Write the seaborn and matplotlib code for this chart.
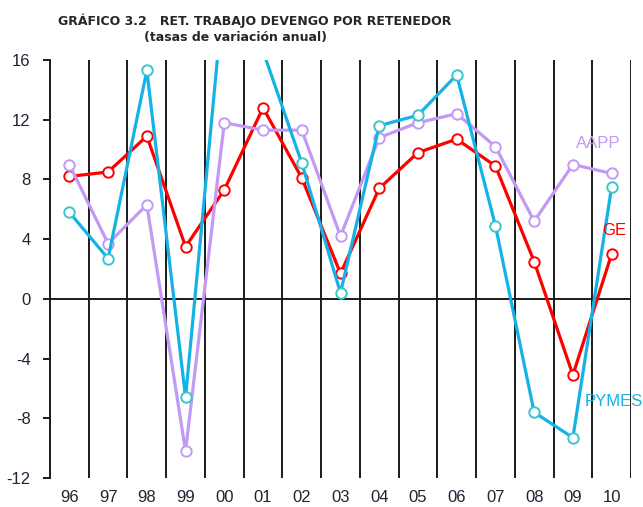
import matplotlib
matplotlib.use("Agg")
import matplotlib.pyplot as plt
import seaborn as sns
import pandas as pd
import numpy as np

years = ["96", "97", "98", "99", "00", "01", "02", "03", "04", "05", "06", "07", "08", "09", "10"]
ge = [8.2, 8.5, 10.9, 3.5, 7.3, 12.8, 8.1, 1.7, 7.4, 9.8, 10.7, 8.9, 2.5, -5.1, 3.0]
aapp = [9.0, 3.7, 6.3, -10.2, 11.8, 11.3, 11.3, 4.2, 10.8, 11.8, 12.4, 10.2, 5.2, 9.0, 8.4]
pymes = [5.8, 2.7, 15.3, -6.6, 21.0, 16.6, 9.1, 0.4, 11.6, 12.3, 15.0, 4.9, -7.6, -9.3, 7.5]
yticks = [-12, -8, -4, 0, 4, 8, 12, 16]

sns.set_style("white")
plt.rcParams['font.family'] = ['Liberation Sans', 'DejaVu Sans']

fig = plt.figure(figsize=(6.43, 5.07), dpi=100)
ax = fig.add_axes([50/643, 1-478/507, (631-50)/643, (478-60)/507])

pos = np.arange(len(years))
df = pd.DataFrame({"x": pos, "GE": ge, "AAPP": aapp, "PYMES": pymes})

# gridlines at category boundaries
for b in np.arange(0.5, len(years), 1.0):
    ax.axvline(b, color="#1a1a1a", lw=1.4, zorder=1)
ax.axhline(0, color="#1a1a1a", lw=1.4, zorder=1)

styles = [
    ("GE", "#ff0000", "#ff0000"),
    ("AAPP", "#c399f5", "#c399f5"),
    ("PYMES", "#14b2e6", "#38c6cc"),
]
for name, lc, mc in styles:
    sns.lineplot(data=df, x="x", y=name, ax=ax, color=lc, lw=2.3, sort=False,
                 marker="o", markersize=7.5, markerfacecolor="white",
                 markeredgecolor=mc, markeredgewidth=1.4, zorder=3)

ax.set_xlim(-0.5, len(years) - 0.5)
ax.set_ylim(-12, 16)
ax.set_yticks(yticks)
ax.set_yticklabels([str(v) for v in yticks])
ax.set_xticks(pos)
ax.set_xticklabels(years)
ax.set_xlabel("")
ax.set_ylabel("")

for s in ["top", "right", "bottom"]:
    ax.spines[s].set_visible(False)
ax.spines["left"].set_color("#1a1a1a")
ax.spines["left"].set_linewidth(1.4)

ax.tick_params(axis="y", which="major", left=True, length=5, width=1.4,
               color="#1a1a1a", labelsize=12, labelcolor="#222233", pad=9)
ax.tick_params(axis="x", which="major", bottom=False, length=0,
               labelsize=12, labelcolor="#222233", pad=9)

ax.text(13.65, 10.4, "AAPP", color="#c399f5", fontsize=12, ha="center", va="center")
ax.text(14.06, 4.55, "GE", color="#ff0000", fontsize=12, ha="center", va="center")
ax.text(14.06, -6.9, "PYMES", color="#14b2e6", fontsize=12, ha="center", va="center")

fig.text(255/643, 1-21/507, "GRÁFICO 3.2   RET. TRABAJO DEVENGO POR RETENEDOR",
         fontsize=9, fontweight="bold", family="DejaVu Sans", ha="center", va="center")
fig.text(236/643, 1-38/507, "(tasas de variación anual)",
         fontsize=9, fontweight="bold", family="DejaVu Sans", ha="center", va="center")

fig.savefig("out.png", dpi=100)
